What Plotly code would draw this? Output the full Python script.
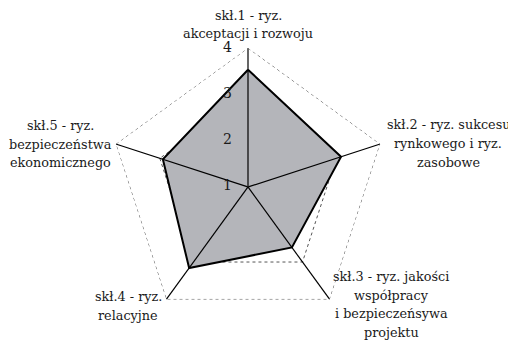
import plotly.graph_objects as go

# ---- data ----
categories = ["skł.1", "skł.2", "skł.3", "skł.4", "skł.5"]
values = [3.53, 3.11, 2.61, 3.16, 2.93]
label_lines = [
    ["skł.1 - ryz.", "akceptacji i rozwoju"],
    ["skł.2 - ryz. sukcesu", "rynkowego i ryz.", "zasobowe"],
    ["skł.3 - ryz. jakości", "współpracy", "i bezpieczeńsywa", "projektu"],
    ["skł.4 - ryz.", "relacyjne"],
    ["skł.5 - ryz.", "bezpieczeństwa", "ekonomicznego"],
]
tick_vals = [1, 2, 3, 4]
tick_text = ["1", "2", "3", "4"]
r_min, r_max = 1, 4

# ---- layout constants ----
W, H = 516, 341
OFF = 8  # page body margin
FONT = "DejaVu Serif"
FS = 12.8
TICK_FS = 14
LINE_PITCH = 18.7
label_centers = [(248, 24.5), (448, 143.5), (391, 304.5), (128, 306), (60, 144)]

fig = go.Figure()

# filled polygon
fig.add_trace(go.Scatterpolar(
    r=values + [values[0]], theta=categories + [categories[0]],
    mode="lines", fill="toself", fillcolor="#b4b5ba",
    line=dict(color="black", width=2), hoverinfo="skip", showlegend=False))

# spokes drawn above the fill
for c in categories:
    fig.add_trace(go.Scatterpolar(
        r=[r_min, r_max], theta=[c, c], mode="lines",
        line=dict(color="black", width=1.2), hoverinfo="skip", showlegend=False))

# outer dotted pentagon
fig.add_trace(go.Scatterpolar(
    r=[r_max] * (len(categories) + 1), theta=categories + [categories[0]],
    mode="lines", line=dict(color="#555555", width=1, dash="dot"),
    hoverinfo="skip", showlegend=False))

# radial tick labels along first axis
fig.add_trace(go.Scatterpolar(
    r=tick_vals, theta=[categories[0]] * len(tick_vals), text=tick_text,
    mode="markers+text", marker=dict(size=24, color="rgba(0,0,0,0)"),
    textposition="middle left", cliponaxis=False,
    textfont=dict(family=FONT, size=TICK_FS, color="#1a1a1a"),
    hoverinfo="skip", showlegend=False))

annotations = []
for lines, (cx, cy) in zip(label_lines, label_centers):
    n = len(lines)
    for i, t in enumerate(lines):
        y = cy + (i - (n - 1) / 2) * LINE_PITCH - OFF
        annotations.append(dict(
            x=(cx - OFF) / W, y=1 - y / H, xref="paper", yref="paper",
            text=t, showarrow=False, xanchor="center", yanchor="middle",
            font=dict(family=FONT, size=FS, color="#1a1a1a")))

fig.update_layout(
    width=W, height=H,
    margin=dict(l=0, r=0, t=0, b=0),
    paper_bgcolor="white", plot_bgcolor="white",
    showlegend=False,
    font=dict(family=FONT, size=FS, color="#1a1a1a"),
    annotations=annotations,
    polar=dict(
        domain=dict(x=[(109 - OFF) / W, (387 - OFF) / W],
                    y=[(15 + OFF) / H, (293 + OFF) / H]),
        bgcolor="white",
        gridshape="linear",
        radialaxis=dict(range=[r_min - 0.005, r_max], tickvals=[2, 3], showticklabels=False,
                        ticks="", showline=False, showgrid=True,
                        gridcolor="#555555", griddash="dot", gridwidth=1),
        angularaxis=dict(categoryarray=categories, type="category",
                         direction="clockwise", rotation=90,
                         showticklabels=False, ticks="", showline=False,
                         showgrid=False),
    ),
)

fig.write_html("out.html")
